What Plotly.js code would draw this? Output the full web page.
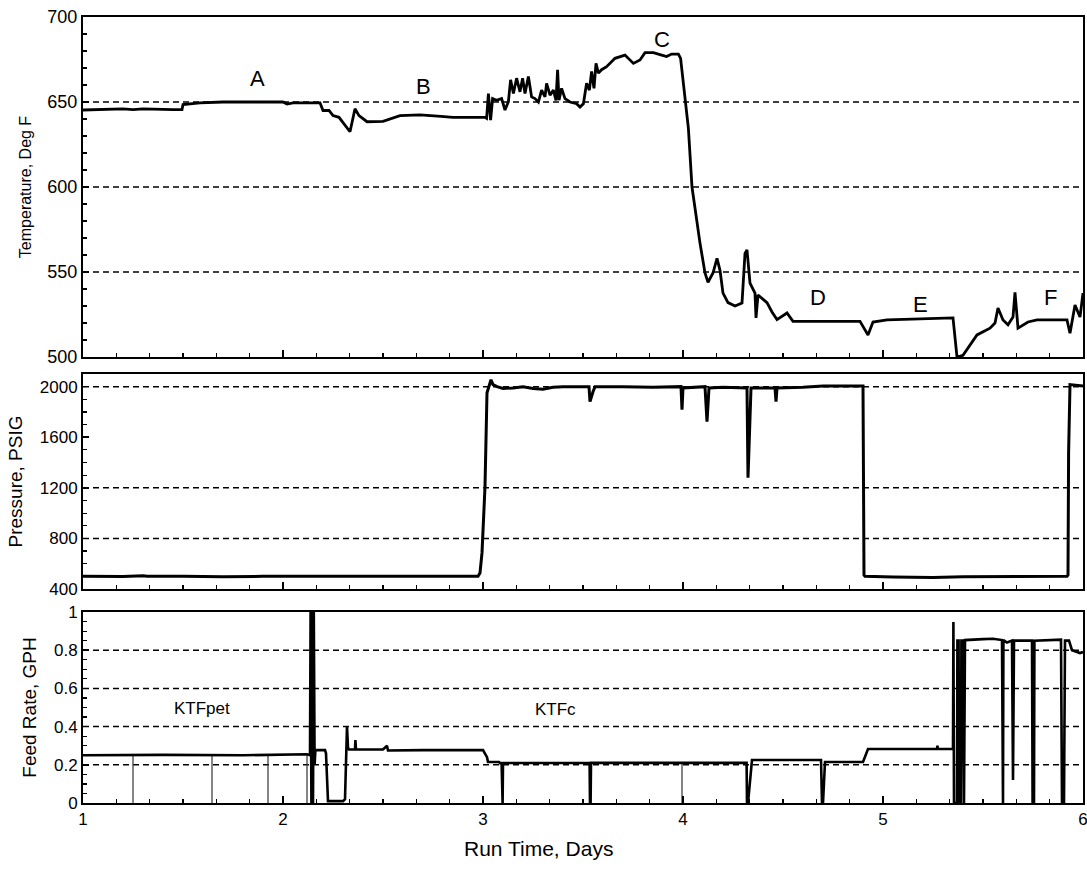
<!DOCTYPE html>
<html>
<head>
<meta charset="utf-8">
<script src="https://cdn.plot.ly/plotly-3.0.1.min.js"></script>
<style>html,body{margin:0;padding:0;background:#fff;}#chart{width:1087px;height:869px;}</style>
</head>
<body>
<div id="chart"></div>
<script>
// ---- Temperature (Deg F) vs run time (days)
const tempX = [1.00,1.10,1.20,1.25,1.30,1.45,1.495,1.50,1.585,1.70,1.85,2.00,2.02,2.05,2.185,2.20,2.23,2.25,2.28,2.335,2.36,2.38,2.42,2.50,2.585,2.685,2.79,2.85,2.935,3.01,3.018,3.027,3.038,3.048,3.068,3.093,3.11,3.127,3.138,3.152,3.168,3.185,3.198,3.21,3.227,3.243,3.26,3.277,3.293,3.31,3.318,3.335,3.352,3.365,3.373,3.38,3.393,3.41,3.435,3.468,3.485,3.502,3.518,3.532,3.543,3.555,3.565,3.577,3.593,3.618,3.66,3.71,3.752,3.785,3.81,3.852,3.893,3.918,3.943,3.977,3.988,4.01,4.027,4.045,4.06,4.085,4.11,4.125,4.15,4.17,4.185,4.20,4.225,4.26,4.295,4.31,4.32,4.335,4.36,4.365,4.375,4.42,4.445,4.47,4.52,4.55,4.885,4.925,4.95,5.02,5.35,5.37,5.40,5.47,5.535,5.56,5.575,5.60,5.625,5.65,5.66,5.675,5.725,5.77,5.92,5.935,5.96,5.985,6.00];
const tempY = [645.3,645.5,646,645.5,646,645.5,645.5,648.5,649.5,650,650,650,648.8,649.5,649.5,645,645,642,641,632.5,646,642,638.4,638.6,642,642.4,641.5,641,641,641,640.4,655,639.4,652,651,652,645.3,650.2,663,655,664,656,664,655,665,653,652,650,657,653,661,654,657,651,669,651,658,652,650,649,647,649,661,657,668,658,672.7,667,669,670.8,675.7,677.6,672.7,674.7,679,679,677.6,676.7,678.2,678.2,675.7,650,634.5,600,586.5,567,549.4,544,549.4,558,551,537.6,532,530,531.8,561,563,543.5,537.6,523,536.5,532,526.5,522,525.9,521,521,513,520.6,521.8,523,500,501,513,517,520,528.8,521.8,519,523.5,538,517,520.6,521.8,521.8,514,530.6,523.5,537.6];

// ---- Pressure (PSIG)
const presX = [1.00,1.10,1.20,1.30,1.32,1.50,1.70,1.90,2.10,2.30,2.50,2.70,2.90,2.975,2.985,2.995,3.01,3.02,3.04,3.05,3.07,3.10,3.15,3.20,3.25,3.30,3.35,3.40,3.53,3.535,3.55,3.56,3.70,3.85,3.99,3.995,4.00,4.11,4.12,4.13,4.20,4.32,4.325,4.335,4.34,4.46,4.465,4.47,4.60,4.70,4.90,4.905,4.91,5.05,5.25,5.40,5.60,5.80,5.92,5.925,5.928,5.935,6.00];
const presY = [500,500,498,505,500,500,497,500,500,500,502,498,500,500,527,685,1208,1952,2055,2016,2000,1985,1990,2000,1985,1980,1995,2000,2000,1881,1960,2000,2000,1995,2000,1818,1990,2000,1723,1990,1995,1990,1279,1900,1990,1990,1881,1990,1995,2005,2005,511,500,495,490,497,500,500,500,511,1477,2016,2005];

// ---- Feed rate (GPH), main record
const feedX = [1.00,1.40,1.80,2.12,2.135,2.138,2.142,2.146,2.150,2.154,2.158,2.162,2.21,2.215,2.225,2.30,2.31,2.32,2.325,2.33,2.36,2.362,2.365,2.50,2.52,2.525,2.70,3.00,3.02,3.025,3.08,3.085,3.093,3.095,3.098,3.10,3.30,3.533,3.535,3.538,3.54,3.80,4.10,4.318,4.32,4.325,4.345,4.50,4.69,4.695,4.70,4.71,4.90,4.925,5.27,5.272,5.275,5.35,5.352,5.355,5.37,5.372,5.378,5.38,5.39,5.392,5.40,5.405,5.41,5.50,5.55,5.595,5.597,5.600,5.602,5.62,5.645,5.65,5.655,5.745,5.748,5.755,5.757,5.89,5.895,5.905,5.91,5.93,5.945,5.985,6.00];
const feedY = [0.25,0.252,0.25,0.255,0.25,1.0,0.0,1.0,0.0,1.0,0.2,0.277,0.277,0.26,0.01,0.01,0.02,0.40,0.29,0.28,0.28,0.33,0.28,0.28,0.30,0.275,0.277,0.277,0.24,0.215,0.215,0.209,0.209,0,0,0.209,0.21,0.21,0,0,0.21,0.21,0.21,0.21,0,0,0.225,0.225,0.225,0,0,0.215,0.215,0.283,0.283,0.30,0.283,0.283,0.948,0,0,0.85,0.85,0,0,0.85,0.85,0,0.853,0.858,0.86,0.853,0,0,0.853,0.84,0.85,0.12,0.85,0.85,0,0,0.85,0.855,0,0,0.85,0.85,0.80,0.785,0.79];
// brief feed interruptions (thin traces)
const dropX = [1.25,1.645,1.925,2.12,3.995];
const dropTop = [0.25,0.25,0.25,0.25,0.21];

// reference grid values
const tempGrid = [550,600,650];
const presGrid = [800,1200,2000];
const feedGrid = [0.2,0.4,0.6,0.8];

// labels
const tempLabels = ['A','B','C','D','E','F'];
const tempLabelX = [1.87,2.70,3.895,4.675,5.185,5.835];
const tempLabelY = [664,659,687,535,531,535];
const feedLabels = ['KTFpet','KTFc'];
const feedLabelX = [1.595,3.36];
const feedLabelY = [0.497,0.487];

const dX = [], dY = [];
dropX.forEach((x,i)=>{ dX.push(x,x,null); dY.push(dropTop[i],0,null); });

const traces = [
  {x: tempX, y: tempY, xaxis:'x', yaxis:'y', mode:'lines', line:{color:'#000', width:2.8}, showlegend:false, hoverinfo:'skip'},
  {x: presX, y: presY, xaxis:'x2', yaxis:'y2', mode:'lines', line:{color:'#000', width:3}, showlegend:false, hoverinfo:'skip'},
  {x: dX, y: dY, xaxis:'x3', yaxis:'y3', mode:'lines', line:{color:'#333', width:1.2}, showlegend:false, hoverinfo:'skip', connectgaps:false},
  {x: feedX, y: feedY, xaxis:'x3', yaxis:'y3', mode:'lines', line:{color:'#000', width:2.6}, showlegend:false, hoverinfo:'skip'}
];

const shapes = [];
function addGrid(vals, yref){
  const xr = yref==='y' ? 'x domain' : (yref==='y2' ? 'x2 domain' : 'x3 domain');
  vals.forEach(v=>shapes.push({type:'line', xref:xr, x0:0, x1:1, yref:yref, y0:v, y1:v, line:{color:'#000', width:1.5, dash:'6px,4px'}, layer:'below'}));
}
addGrid(tempGrid,'y'); addGrid(presGrid,'y2'); addGrid(feedGrid,'y3');

const plotTop = 17, plotBottom = 803;
const annotations = [];
tempLabels.forEach((t,i)=>annotations.push({x:tempLabelX[i], y:tempLabelY[i], xref:'x', yref:'y', text:t, showarrow:false, font:{family:'Liberation Sans Narrow, Liberation Sans, Arial', size:22, color:'#000'}}));
feedLabels.forEach((t,i)=>annotations.push({x:feedLabelX[i], y:feedLabelY[i], xref:'x3', yref:'y3', text:t, showarrow:false, font:{family:'Liberation Sans, Arial', size:17, color:'#000'}}));
annotations.push({x:0.455, y:(plotBottom-849)/(plotBottom-plotTop), yanchor:'middle', xref:'paper', yref:'paper', text:'Run Time, Days', showarrow:false, font:{family:'Liberation Sans, Arial', size:21, color:'#000'}});

const baseX = {range:[1,6], dtick:1, tick0:1, showgrid:false, zeroline:false, showline:true, linecolor:'#000', linewidth:2, mirror:true,
  ticks:'inside', ticklen:7, tickwidth:1.5, tickcolor:'#000', ticklabeloverflow:'allow',
  minor:{dtick:1/6, ticks:'inside', ticklen:4, tickwidth:1.2, tickcolor:'#000', showgrid:false},
  tickfont:{family:'Liberation Sans, Arial', size:17, color:'#000'}};
const baseY = {showgrid:false, zeroline:false, showline:true, linecolor:'#000', linewidth:2, mirror:true,
  ticks:'inside', ticklen:6, tickwidth:1.5, tickcolor:'#000'};

const layout = {
  width:1087, height:869, margin:{l:83, r:4, t:17, b:66},
  paper_bgcolor:'#fff', plot_bgcolor:'#fff', showlegend:false,
  xaxis: Object.assign({}, baseX, {domain:[0,1], anchor:'y', showticklabels:false, matches:'x3'}),
  xaxis2: Object.assign({}, baseX, {domain:[0,1], anchor:'y2', showticklabels:false, matches:'x3'}),
  xaxis3: Object.assign({}, baseX, {domain:[0,1], anchor:'y3', showticklabels:true}),
  yaxis: Object.assign({}, baseY, {domain:[0.5674,1], range:[500,700], dtick:50, anchor:'x',
    minor:{dtick:10, ticks:'inside', ticklen:4, tickwidth:1.2, tickcolor:'#000', showgrid:false},
    tickfont:{family:'Liberation Sans Narrow, Liberation Sans, Arial', size:18, color:'#000'},
    title:{text:'Temperature, Deg F', font:{family:'Liberation Sans, Arial', size:16, color:'#000'}, standoff:12}}),
  yaxis2: Object.assign({}, baseY, {domain:[0.2723,0.5458], range:[400,2100], tickvals:[400,800,1200,1600,2000], anchor:'x2',
    minor:{dtick:100, ticks:'inside', ticklen:4, tickwidth:1.2, tickcolor:'#000', showgrid:false},
    tickfont:{family:'Liberation Sans, Arial', size:17, color:'#000'},
    title:{text:'Pressure, PSIG', font:{family:'Liberation Sans, Arial', size:19, color:'#000'}, standoff:12}}),
  yaxis3: Object.assign({}, baseY, {domain:[0,0.243], range:[0,1], tickvals:[0,0.2,0.4,0.6,0.8,1], ticktext:['0','0.2','0.4','0.6','0.8','1'], anchor:'x3',
    minor:{dtick:0.05, ticks:'inside', ticklen:4, tickwidth:1.2, tickcolor:'#000', showgrid:false},
    tickfont:{family:'Liberation Sans, Arial', size:17, color:'#000'},
    title:{text:'Feed Rate, GPH', font:{family:'Liberation Sans, Arial', size:19, color:'#000'}, standoff:12}}),
  shapes: shapes,
  annotations: annotations
};

Plotly.newPlot('chart', traces, layout, {staticPlot:true, displayModeBar:false});
</script>
</body>
</html>
